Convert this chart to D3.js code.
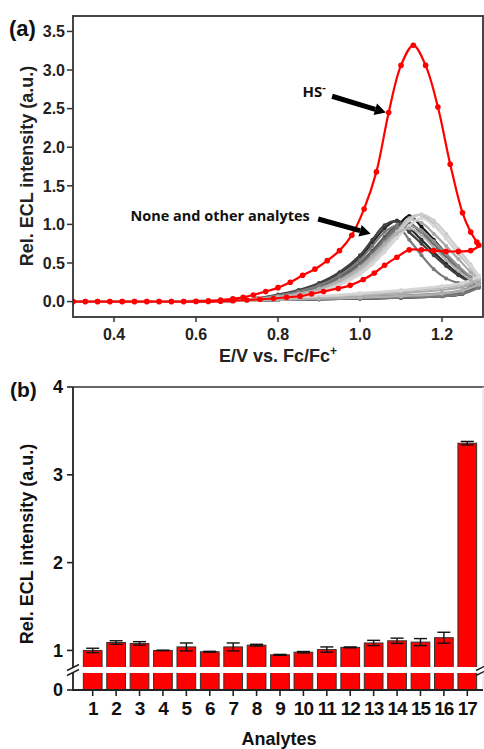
<!DOCTYPE html>
<html><head><meta charset="utf-8">
<script src="https://cdn.jsdelivr.net/npm/d3@7"></script>
<style>body{margin:0;background:#fff}svg{display:block}</style>
</head><body>
<svg id="c" width="484" height="749"></svg>
<script>
// ---------- Panel (a) data ----------
const hsForwardE = [0.30,0.33,0.36,0.39,0.42,0.45,0.48,0.51,0.54,0.57,0.60,0.63,0.66,0.69,0.715,0.74,0.77,0.80,0.83,0.86,0.89,0.92,0.95,0.98,1.01,1.04,1.07,1.10,1.13,1.16,1.19,1.22,1.25,1.27,1.285];
const hsForwardI = [0,0,0,0,0,0,0,0,0,0,0.005,0.01,0.02,0.035,0.055,0.085,0.13,0.18,0.25,0.34,0.42,0.53,0.66,0.86,1.20,1.68,2.45,3.06,3.32,3.06,2.52,1.78,1.15,0.90,0.77];
const hsReverseE = [1.29,1.27,1.24,1.21,1.18,1.15,1.12,1.09,1.06,1.035,1.008,0.976,0.947,0.911,0.882,0.854,0.821,0.789,0.756,0.724,0.69,0.66,0.63,0.60,0.57,0.54,0.51,0.48,0.45,0.42,0.39,0.36,0.33,0.30];
const hsReverseI = [0.73,0.66,0.65,0.65,0.66,0.67,0.67,0.575,0.47,0.37,0.285,0.21,0.17,0.13,0.10,0.07,0.055,0.04,0.03,0.02,0.01,0.005,0,0,0,0,0,0,0,0,0,0,0,0];

const grayForwardE = [0.30,0.40,0.50,0.60,0.70,0.75,0.80,0.85,0.90,0.95,1.00,1.03,1.06,1.09,1.12,1.15,1.18,1.21,1.24,1.27,1.29];
const grayReverseE = [1.29,1.25,1.20,1.10,1.00,0.90,0.80,0.70,0.50,0.30];
const grayColors = ["#111111","#2b2b2b","#404040","#555555","#6a6a6a","#7a7a7a","#909090","#a8a8a8","#bcbcbc","#cccccc","#d6d6d6","#b0b0b0"];
const grayForwardI = [
  [0,0,0,0,0.01,.03,.06,.10,.17,.27,.44,.58,.76,.96,1.11,.97,.80,.62,.44,.28,.20],
  [0,0,0,0,0.01,.04,.08,.14,.22,.36,.57,.76,.95,1.05,.95,.80,.64,.49,.36,.26,.21],
  [0,0,0,0,0.01,.04,.09,.15,.24,.38,.60,.80,.99,1.04,.90,.75,.60,.46,.34,.25,.20],
  [0,0,0,0,0.01,.03,.07,.12,.20,.32,.50,.66,.84,.99,1.02,.88,.72,.56,.41,.29,.22],
  [0,0,0,0,0.01,.03,.07,.12,.19,.30,.48,.63,.80,.95,1.00,.90,.75,.58,.43,.30,.23],
  [0,0,0,0,0.01,.04,.08,.13,.21,.34,.54,.72,.90,.98,.80,.60,.42,.30,.24,.20,.18],
  [0,0,0,0,0.01,.03,.06,.10,.17,.28,.45,.60,.77,.92,.98,.92,.78,.62,.46,.32,.24],
  [0,0,0,0,0.01,.03,.06,.10,.16,.26,.42,.56,.72,.90,1.06,1.02,.88,.72,.55,.38,.28],
  [0,0,0,0,0.01,.02,.05,.09,.15,.24,.40,.54,.71,.90,1.08,1.12,1.00,.82,.62,.44,.30],
  [0,0,0,0,0.01,.02,.05,.09,.14,.23,.38,.51,.68,.87,1.05,1.13,1.05,.88,.68,.48,.33],
  [0,0,0,0,0.01,.02,.04,.08,.13,.21,.35,.48,.64,.82,.98,1.08,.98,.82,.64,.46,.32],
  [0,0,0,0,0.01,.03,.06,.10,.16,.27,.44,.58,.74,.88,.95,.86,.70,.54,.40,.28,.22]
];
const grayReverseI = [
  [.20,.10,.07,.05,.04,.03,.02,.01,0,0],
  [.21,.11,.08,.05,.04,.03,.02,.01,0,0],
  [.20,.10,.07,.05,.04,.03,.02,.01,0,0],
  [.22,.12,.08,.06,.04,.03,.02,.01,0,0],
  [.23,.13,.09,.06,.05,.03,.02,.01,0,0],
  [.18,.10,.07,.05,.04,.03,.02,.01,0,0],
  [.24,.15,.11,.08,.06,.04,.03,.01,0,0],
  [.28,.19,.15,.11,.08,.05,.03,.02,0,0],
  [.30,.22,.18,.13,.09,.06,.04,.02,0,0],
  [.33,.24,.20,.14,.10,.06,.04,.02,0,0],
  [.32,.24,.20,.15,.11,.07,.04,.02,0,0],
  [.22,.14,.10,.07,.05,.04,.02,.01,0,0]
];
const aXTicks = [0.4,0.6,0.8,1.0,1.2];
const aYTicks = [0.0,0.5,1.0,1.5,2.0,2.5,3.0,3.5];

// ---------- Panel (b) data ----------
const analytes = ["1","2","3","4","5","6","7","8","9","10","11","12","13","14","15","16","17"];
const relECL = [1.00,1.09,1.08,1.00,1.04,0.985,1.04,1.06,0.95,0.98,1.01,1.035,1.085,1.11,1.095,1.145,3.36];
const relErr = [0.025,0.02,0.02,0.003,0.045,0.005,0.045,0.01,0.005,0.008,0.03,0.005,0.03,0.03,0.04,0.062,0.02];
const bYTicks = [0,1,2,3,4];

const svg = d3.select("#c");
svg.append("rect").attr("width",484).attr("height",749).attr("fill","#fff");
const tickFont = "'Liberation Sans', Arial, sans-serif";

// ================= Panel (a) =================
const ax = d3.scaleLinear().domain([0.3,1.3]).range([73,483]);
const ay = d3.scaleLinear().domain([-0.2,3.7]).range([317,16]);

svg.append("defs").append("clipPath").attr("id","clipA")
  .append("rect").attr("x",73).attr("y",16).attr("width",410).attr("height",301);
const gA = svg.append("g").attr("clip-path","url(#clipA)");

const line = d3.line().x(d=>ax(d[0])).y(d=>ay(d[1])).curve(d3.curveCatmullRom.alpha(0.5));

grayColors.forEach((col,k)=>{
  const pts = grayForwardE.map((e,i)=>[e,grayForwardI[k][i]])
     .concat(grayReverseE.map((e,i)=>[e,grayReverseI[k][i]]));
  gA.append("path").datum(pts).attr("d",line).attr("fill","none")
    .attr("stroke",col).attr("stroke-width",2.2).attr("stroke-linejoin","round");
  gA.selectAll(null).data(pts.filter(p=>p[0]>=0.75)).enter().append("circle")
    .attr("cx",d=>ax(d[0])).attr("cy",d=>ay(d[1])).attr("r",2).attr("fill",col);
});

const hsPts = hsForwardE.map((e,i)=>[e,hsForwardI[i]]).concat(hsReverseE.map((e,i)=>[e,hsReverseI[i]]));
gA.append("path").datum(hsPts).attr("d",line).attr("fill","none")
  .attr("stroke","#ff0000").attr("stroke-width",2.2).attr("stroke-linejoin","round");
gA.selectAll(null).data(hsPts).enter().append("circle")
  .attr("cx",d=>ax(d[0])).attr("cy",d=>ay(d[1])).attr("r",2.8).attr("fill","#ff0000");

// frame
svg.append("rect").attr("x",73).attr("y",16).attr("width",410).attr("height",301)
  .attr("fill","none").attr("stroke","#333").attr("stroke-width",1.8);

// ticks
aYTicks.forEach(t=>{
  svg.append("line").attr("x1",67).attr("x2",73).attr("y1",ay(t)).attr("y2",ay(t)).attr("stroke","#333").attr("stroke-width",1.5);
  svg.append("text").attr("x",65).attr("y",ay(t)).attr("dy","0.36em").attr("text-anchor","end")
    .attr("font-family",tickFont).attr("font-weight","bold").attr("font-size",16).attr("fill","#222").text(d3.format(".1f")(t));
});
aXTicks.forEach(t=>{
  svg.append("line").attr("x1",ax(t)).attr("x2",ax(t)).attr("y1",317).attr("y2",322).attr("stroke","#333").attr("stroke-width",1.5);
  svg.append("text").attr("x",ax(t)).attr("y",340).attr("text-anchor","middle")
    .attr("font-family",tickFont).attr("font-weight","bold").attr("font-size",16).attr("fill","#222").text(d3.format(".1f")(t));
});
// axis titles
const xt = svg.append("text").attr("x",278).attr("y",362).attr("text-anchor","middle")
  .attr("font-family",tickFont).attr("font-weight","bold").attr("font-size",18).attr("fill","#222");
xt.append("tspan").text("E/V vs. Fc/Fc");
xt.append("tspan").attr("dy",-7).attr("font-size",12).text("+");
svg.append("text").attr("transform","translate(33,166) rotate(-90)").attr("text-anchor","middle")
  .attr("font-family",tickFont).attr("font-weight","bold").attr("font-size",18).attr("fill","#222")
  .text("Rel. ECL intensity (a.u.)");
svg.append("text").attr("x",9).attr("y",36).attr("font-family",tickFont).attr("font-weight","bold")
  .attr("font-size",22).attr("fill","#111").text("(a)");

// annotations
const annFont = "'Open Sans', sans-serif";
const hs = svg.append("text").attr("x",ax(0.86)).attr("y",ay(2.65)).attr("font-family",annFont)
  .attr("font-weight","bold").attr("font-size",15).attr("fill","#111");
hs.append("tspan").text("HS");
hs.append("tspan").attr("dy",-6).attr("font-size",11).text("-");
svg.append("text").attr("x",ax(0.44)).attr("y",ay(1.05)).attr("font-family",annFont)
  .attr("font-weight","bold").attr("font-size",14.5).attr("fill","#111").text("None and other analytes");

function arrow(e0,i0,e1,i1){
  const x0=ax(e0),y0=ay(i0),x1=ax(e1),y1=ay(i1);
  const a=Math.atan2(y1-y0,x1-x0), L=11, W=6;
  const bx=x1-L*Math.cos(a), by=y1-L*Math.sin(a);
  svg.append("line").attr("x1",x0).attr("y1",y0).attr("x2",bx).attr("y2",by)
    .attr("stroke","#000").attr("stroke-width",5);
  const px=-Math.sin(a), py=Math.cos(a);
  svg.append("polygon").attr("points",[[x1,y1],[bx+px*W,by+py*W],[bx-px*W,by-py*W]].map(p=>p.join(",")).join(" "))
    .attr("fill","#000");
}
arrow(0.932,2.66,1.063,2.45);
arrow(0.898,1.07,1.026,0.88);

// ================= Panel (b) =================
const bx = d3.scaleBand().domain(analytes).range([81,479]).paddingInner(0.2).paddingOuter(0.1);
const by = d3.scaleLinear().domain([0,0.2,0.8,4]).range([690,672,668,387]);

const gB = svg.append("g");
gB.selectAll("rect.bar").data(analytes).enter().append("rect")
  .attr("x",d=>bx(d)).attr("width",bx.bandwidth())
  .attr("y",(d,i)=>by(relECL[i])).attr("height",(d,i)=>by(0)-by(relECL[i]))
  .attr("fill","#ff0000").attr("stroke","#333").attr("stroke-width",1);
analytes.forEach((d,i)=>{
  const cx=bx(d)+bx.bandwidth()/2, hi=by(relECL[i]+relErr[i]), lo=by(relECL[i]-relErr[i]);
  gB.append("line").attr("x1",cx).attr("x2",cx).attr("y1",hi).attr("y2",lo).attr("stroke","#111").attr("stroke-width",1.4);
  [hi,lo].forEach(yy=>gB.append("line").attr("x1",cx-6.5).attr("x2",cx+6.5).attr("y1",yy).attr("y2",yy).attr("stroke","#111").attr("stroke-width",1.4));
});

// axes frame
svg.append("line").attr("x1",73).attr("x2",484).attr("y1",387).attr("y2",387).attr("stroke","#333").attr("stroke-width",1.6);
svg.append("line").attr("x1",483).attr("x2",483).attr("y1",387).attr("y2",690).attr("stroke","#ddd").attr("stroke-width",1);
svg.append("line").attr("x1",73).attr("x2",73).attr("y1",387).attr("y2",690).attr("stroke","#222").attr("stroke-width",1.8);
svg.append("line").attr("x1",72).attr("x2",483).attr("y1",690).attr("y2",690).attr("stroke","#222").attr("stroke-width",1.8);

// break band
svg.append("rect").attr("x",66).attr("y",by(0.8)-1).attr("width",418).attr("height",by(0.2)-by(0.8)+2).attr("fill","#fff");
[[73,-2.5],[73,2.5],[482,-2.5],[482,2.5]].forEach(([x0,o])=>{
  const yc=(by(0.8)+by(0.2))/2+o;
  svg.append("line").attr("x1",x0-6).attr("x2",x0+6).attr("y1",yc+3).attr("y2",yc-3).attr("stroke","#222").attr("stroke-width",1.4);
});

bYTicks.forEach(t=>{
  svg.append("line").attr("x1",67).attr("x2",73).attr("y1",by(t)).attr("y2",by(t)).attr("stroke","#222").attr("stroke-width",1.6);
  svg.append("text").attr("x",63).attr("y",by(t)).attr("dy","0.36em").attr("text-anchor","end")
    .attr("font-family",tickFont).attr("font-weight","bold").attr("font-size",18).attr("fill","#111").text(t);
});
analytes.forEach(d=>{
  const cx=bx(d)+bx.bandwidth()/2;
  svg.append("line").attr("x1",cx).attr("x2",cx).attr("y1",690).attr("y2",696).attr("stroke","#222").attr("stroke-width",1.6);
  svg.append("text").attr("x",cx).attr("y",715).attr("text-anchor","middle")
    .attr("font-family",tickFont).attr("font-weight","bold").attr("font-size",19).attr("fill","#111")
    .attr("letter-spacing",-1).text(d);
});
svg.append("text").attr("x",279).attr("y",745).attr("text-anchor","middle")
  .attr("font-family",tickFont).attr("font-weight","bold").attr("font-size",18).attr("fill","#111").text("Analytes");
svg.append("text").attr("transform","translate(33,544) rotate(-90)").attr("text-anchor","middle")
  .attr("font-family",tickFont).attr("font-weight","bold").attr("font-size",18).attr("fill","#111")
  .text("Rel. ECL intensity (a.u.)");
svg.append("text").attr("x",10).attr("y",397).attr("font-family",tickFont).attr("font-weight","bold")
  .attr("font-size",21).attr("fill","#111").text("(b)");
</script>
</body></html>
